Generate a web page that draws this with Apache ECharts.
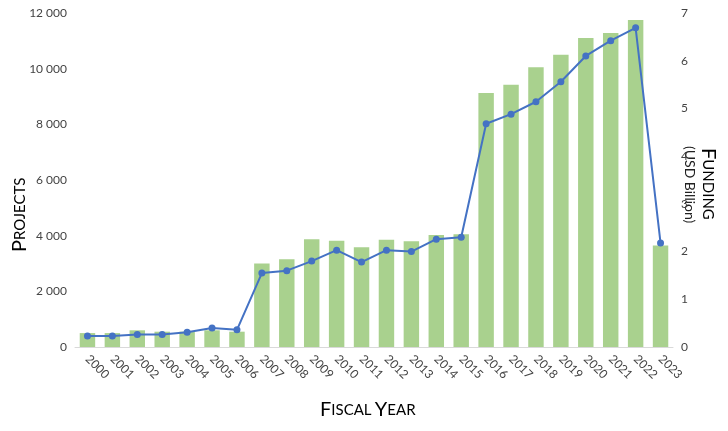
<!DOCTYPE html><html><head><meta charset="utf-8">
<script src="https://cdn.jsdelivr.net/npm/echarts@6/dist/echarts.min.js"></script>
<style>html,body{margin:0;background:#fff}#c{width:728px;height:431px}</style></head><body><div id="c"></div><script>
const years=['2000','2001','2002','2003','2004','2005','2006','2007','2008','2009','2010','2011','2012','2013','2014','2015','2016','2017','2018','2019','2020','2021','2022','2023'];
const projects=[500,500,600,550,550,600,550,3000,3150,3870,3820,3580,3850,3800,4020,4050,9130,9420,10050,10500,11100,11280,11750,3650];
const funding=[0.23,0.23,0.26,0.26,0.31,0.4,0.36,1.55,1.6,1.8,2.03,1.78,2.03,2.0,2.26,2.3,4.68,4.88,5.14,5.56,6.1,6.42,6.69,2.18];
const F='Lato, sans-serif';
const c=echarts.init(document.getElementById('c'));
const sc={big:{fontSize:20,fontFamily:F,color:'#222'},sm:{fontSize:15,fontFamily:F,color:'#222'}};
c.setOption({
 animation:false,
 grid:{left:75,right:55,top:13,bottom:84},
 xAxis:{type:'category',data:years,axisTick:{show:false},axisLine:{lineStyle:{color:'#d9d9d9'}},
  axisLabel:{rotate:-45,color:'#444',fontFamily:F,fontSize:12,interval:0,margin:10}},
 yAxis:[{type:'value',min:0,max:12000,interval:2000,splitLine:{show:false},
   axisLabel:{color:'#444',fontFamily:F,fontSize:12,formatter:v=>v>=1000?String(v).replace(/(\d)(\d{3})$/,'$1 $2'):v}},
  {type:'value',min:0,max:7,interval:1,splitLine:{show:false},axisLabel:{color:'#444',fontFamily:F,fontSize:12}}],
 graphic:[
  {type:'text',x:20,y:252,rotation:Math.PI/2,style:{rich:sc,text:'{big|P}{sm|ROJECTS}',align:'left',verticalAlign:'middle'}},
  {type:'text',x:708,y:148,rotation:-Math.PI/2,style:{rich:sc,text:'{big|F}{sm|UNDING}',align:'left',verticalAlign:'middle'}},
  {type:'text',x:690,y:146,rotation:-Math.PI/2,style:{text:'(USD Billion)',font:'14px Lato',fill:'#222',align:'left',verticalAlign:'middle'}},
  {type:'text',x:320,y:400,style:{rich:sc,text:'{big|F}{sm|ISCAL} {big|Y}{sm|EAR}'}}
 ],
 series:[
  {type:'bar',data:projects,barWidth:'62%',itemStyle:{color:'#a9d18e'}},
  {type:'line',yAxisIndex:1,data:funding,symbol:'circle',symbolSize:7,lineStyle:{color:'#4472c4',width:2},itemStyle:{color:'#4472c4'}}
 ]});
</script></body></html>
